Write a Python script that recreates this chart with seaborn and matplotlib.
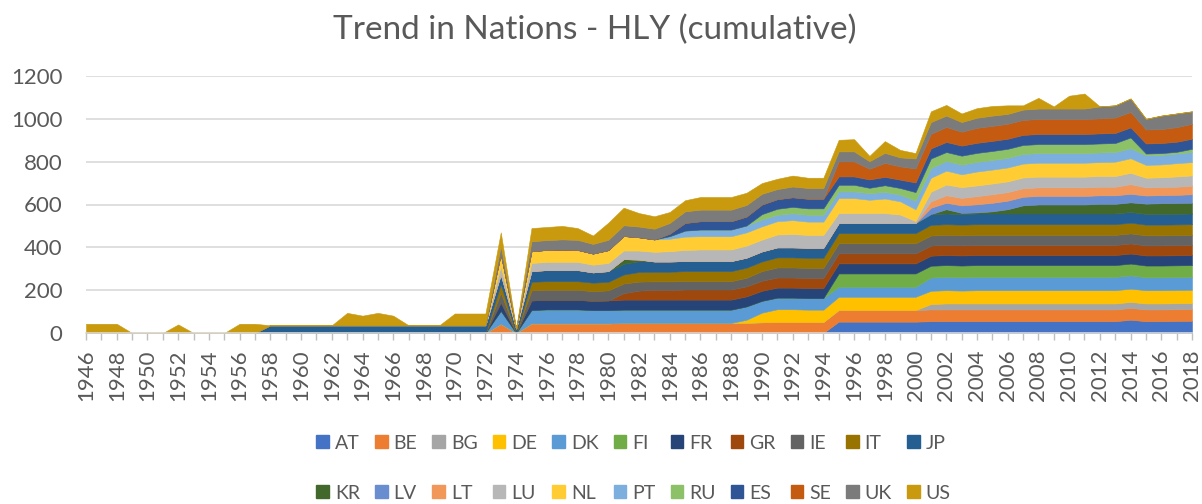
import matplotlib

matplotlib.use("Agg")
import matplotlib.pyplot as plt
import seaborn as sns
from matplotlib.patches import Patch


YEARS = list(range(1946, 2019))

COUNTRIES = ["AT", "BE", "BG", "DE", "DK", "FI", "FR", "GR", "IE", "IT", "JP",
             "KR", "LV", "LT", "LU", "NL", "PT", "RU", "ES", "SE", "UK", "US"]

# values per year 1946-2018 (rows: 1946-1972, 1973-1994, 1995-2018)
AT = [0, 0, 0, 0, 0, 0, 0, 0, 0, 0, 0, 0, 0, 0, 0, 0, 0, 0, 0, 0, 0, 0, 0, 0, 0, 0, 0,
      0, 0, 0, 0, 0, 0, 0, 0, 0, 0, 0, 0, 0, 0, 0, 0, 0, 0, 0, 0, 0, 0,
      53, 53, 53, 53, 53, 53, 55, 55, 55, 55, 55, 55, 55, 55, 55, 55, 55, 55, 55, 62, 55, 55, 56, 57]
BE = [0, 0, 0, 0, 0, 0, 0, 0, 0, 0, 0, 0, 0, 0, 0, 0, 0, 0, 0, 0, 0, 0, 0, 0, 0, 0, 0,
      43, 0, 45, 45, 45, 45, 45, 45, 47, 47, 47, 47, 47, 47, 47, 47, 47, 50, 51, 51, 51, 51,
      54, 54, 54, 54, 54, 54, 55, 55, 55, 55, 55, 55, 55, 55, 55, 55, 55, 55, 55, 55, 55, 55, 55, 55]
BG = [0, 0, 0, 0, 0, 0, 0, 0, 0, 0, 0, 0, 0, 0, 0, 0, 0, 0, 0, 0, 0, 0, 0, 0, 0, 0, 0,
      0, 0, 0, 0, 0, 0, 0, 0, 0, 0, 0, 0, 0, 0, 0, 0, 0, 0, 0, 0, 0, 0,
      0, 0, 0, 0, 0, 0, 25, 28, 28, 28, 28, 28, 28, 28, 28, 28, 28, 28, 28, 28, 28, 28, 28, 28]
DE = [0, 0, 0, 0, 0, 0, 0, 0, 0, 0, 0, 0, 0, 0, 0, 0, 0, 0, 0, 0, 0, 0, 0, 0, 0, 0, 0,
      0, 0, 0, 0, 0, 0, 0, 0, 0, 0, 0, 0, 0, 0, 0, 0, 15, 45, 60, 60, 58, 58,
      62, 62, 62, 62, 62, 62, 62, 62, 60, 62, 62, 62, 62, 62, 62, 62, 62, 62, 62, 62, 62, 62, 62, 62]
DK = [0, 0, 0, 0, 0, 0, 0, 0, 0, 0, 0, 0, 0, 0, 0, 0, 0, 0, 0, 0, 0, 0, 0, 0, 0, 0, 0,
      60, 0, 62, 65, 65, 65, 62, 62, 62, 62, 62, 62, 62, 62, 62, 62, 62, 55, 54, 54, 54, 54,
      47, 47, 47, 47, 47, 47, 62, 62, 62, 62, 62, 62, 62, 62, 62, 62, 62, 62, 62, 62, 60, 60, 60, 60]
FI = [0, 0, 0, 0, 0, 0, 0, 0, 0, 0, 0, 0, 0, 0, 0, 0, 0, 0, 0, 0, 0, 0, 0, 0, 0, 0, 0,
      0, 0, 0, 0, 0, 0, 0, 0, 0, 0, 0, 0, 0, 0, 0, 0, 0, 0, 0, 0, 0, 0,
      62, 62, 62, 62, 62, 62, 55, 55, 55, 55, 55, 55, 55, 55, 55, 55, 55, 55, 55, 55, 55, 55, 55, 55]
FR = [0, 0, 0, 0, 0, 0, 0, 0, 0, 0, 0, 0, 0, 0, 0, 0, 0, 0, 0, 0, 0, 0, 0, 0, 0, 0, 0,
      40, 0, 45, 45, 45, 45, 43, 45, 47, 47, 47, 47, 47, 47, 47, 47, 47, 47, 47, 47, 47, 47,
      47, 47, 47, 47, 47, 47, 47, 47, 47, 47, 47, 47, 47, 47, 47, 47, 47, 47, 47, 47, 47, 47, 47, 47]
GR = [0, 0, 0, 0, 0, 0, 0, 0, 0, 0, 0, 0, 0, 0, 0, 0, 0, 0, 0, 0, 0, 0, 0, 0, 0, 0, 0,
      0, 0, 0, 0, 0, 0, 0, 0, 30, 42, 45, 45, 47, 47, 47, 47, 47, 47, 47, 47, 47, 47,
      47, 47, 47, 47, 47, 47, 47, 47, 47, 47, 47, 47, 47, 47, 47, 47, 47, 47, 47, 47, 47, 47, 47, 47]
IE = [0, 0, 0, 0, 0, 0, 0, 0, 0, 0, 0, 0, 0, 0, 0, 0, 0, 0, 0, 0, 0, 0, 0, 0, 0, 0, 0,
      45, 0, 47, 47, 47, 47, 45, 47, 45, 42, 40, 40, 39, 39, 39, 39, 40, 45, 47, 47, 47, 47,
      47, 47, 47, 47, 47, 47, 47, 47, 47, 47, 47, 47, 47, 47, 47, 47, 47, 47, 47, 47, 47, 47, 47, 47]
IT = [0, 0, 0, 0, 0, 0, 0, 0, 0, 0, 0, 0, 0, 0, 0, 0, 0, 0, 0, 0, 0, 0, 0, 0, 0, 0, 0,
      40, 0, 40, 40, 40, 40, 40, 40, 42, 45, 45, 45, 47, 47, 47, 47, 47, 45, 47, 47, 47, 47,
      47, 47, 47, 47, 47, 47, 50, 50, 50, 50, 50, 50, 50, 50, 50, 50, 50, 50, 50, 50, 50, 50, 50, 50]
JP = [0, 0, 0, 0, 0, 0, 0, 0, 0, 0, 0, 0, 36, 36, 36, 36, 36, 36, 36, 36, 36, 36, 36, 36, 36, 36, 36,
      45, 20, 50, 52, 52, 52, 48, 50, 50, 50, 48, 48, 47, 47, 47, 47, 47, 47, 47, 47, 47, 47,
      47, 47, 47, 47, 47, 47, 50, 50, 50, 50, 50, 50, 50, 50, 50, 50, 50, 50, 50, 50, 50, 50, 50, 50]
KR = [0, 0, 0, 0, 0, 0, 0, 0, 0, 0, 0, 0, 0, 0, 0, 0, 0, 0, 0, 0, 0, 0, 0, 0, 0, 0, 0,
      0, 0, 0, 0, 0, 0, 0, 0, 22, 8, 0, 0, 0, 0, 0, 0, 0, 0, 0, 0, 0, 0,
      0, 0, 0, 0, 0, 0, 0, 20, 5, 5, 10, 20, 38, 42, 42, 42, 42, 45, 45, 45, 48, 50, 50, 50]
LV = [0, 0, 0, 0, 0, 0, 0, 0, 0, 0, 0, 0, 0, 0, 0, 0, 0, 0, 0, 0, 0, 0, 0, 0, 0, 0, 0,
      0, 0, 0, 0, 0, 0, 0, 0, 0, 0, 0, 0, 0, 0, 0, 0, 0, 0, 0, 0, 0, 0,
      0, 0, 0, 0, 0, 0, 30, 30, 35, 38, 40, 40, 40, 40, 40, 40, 40, 40, 40, 40, 38, 38, 38, 40]
LT = [0, 0, 0, 0, 0, 0, 0, 0, 0, 0, 0, 0, 0, 0, 0, 0, 0, 0, 0, 0, 0, 0, 0, 0, 0, 0, 0,
      0, 0, 0, 0, 0, 0, 0, 0, 0, 0, 0, 0, 0, 0, 0, 0, 0, 0, 0, 0, 0, 0,
      0, 0, 0, 0, 0, 0, 30, 35, 35, 38, 40, 40, 40, 40, 40, 40, 40, 40, 40, 45, 38, 38, 38, 40]
LU = [0, 0, 0, 0, 0, 0, 0, 0, 0, 0, 0, 0, 0, 0, 0, 0, 0, 0, 0, 0, 0, 0, 0, 0, 0, 0, 0,
      40, 0, 38, 38, 38, 38, 36, 38, 40, 42, 45, 48, 52, 54, 54, 54, 56, 55, 60, 62, 60, 60,
      47, 47, 47, 47, 40, 10, 45, 50, 50, 50, 50, 50, 50, 50, 50, 50, 50, 50, 50, 53, 45, 45, 48, 48]
NL = [0, 0, 0, 0, 0, 0, 0, 0, 0, 0, 0, 0, 0, 0, 0, 0, 0, 0, 0, 0, 0, 0, 0, 0, 0, 0, 0,
      55, 0, 55, 56, 58, 56, 52, 60, 68, 62, 58, 58, 62, 62, 62, 62, 62, 62, 62, 65, 62, 62,
      70, 70, 62, 68, 62, 55, 65, 65, 60, 65, 65, 65, 65, 65, 65, 65, 65, 65, 67, 68, 60, 60, 62, 62]
PT = [0, 0, 0, 0, 0, 0, 0, 0, 0, 0, 0, 0, 0, 0, 0, 0, 0, 0, 0, 0, 0, 0, 0, 0, 0, 0, 0,
      0, 0, 0, 0, 0, 0, 0, 0, 0, 0, 0, 12, 28, 31, 31, 31, 32, 32, 30, 32, 32, 32,
      31, 31, 31, 31, 31, 40, 45, 45, 45, 45, 45, 45, 45, 45, 45, 45, 45, 45, 45, 47, 45, 45, 45, 47]
RU = [0, 0, 0, 0, 0, 0, 0, 0, 0, 0, 0, 0, 0, 0, 0, 0, 0, 0, 0, 0, 0, 0, 0, 0, 0, 0, 0,
      0, 0, 0, 0, 0, 0, 0, 0, 0, 0, 0, 0, 0, 0, 0, 0, 0, 25, 28, 30, 30, 30,
      31, 31, 25, 31, 31, 40, 45, 42, 42, 42, 42, 42, 42, 42, 42, 42, 42, 42, 42, 50, 8, 8, 8, 15]
ES = [0, 0, 0, 0, 0, 0, 0, 0, 0, 0, 0, 0, 0, 0, 0, 0, 0, 0, 0, 0, 0, 0, 0, 0, 0, 0, 0,
      0, 0, 0, 0, 0, 0, 0, 0, 0, 0, 0, 12, 36, 39, 39, 39, 42, 45, 45, 45, 45, 45,
      39, 39, 39, 39, 39, 45, 47, 47, 47, 47, 47, 47, 47, 47, 47, 47, 47, 47, 47, 47, 47, 47, 47, 47]
SE = [0, 0, 0, 0, 0, 0, 0, 0, 0, 0, 0, 0, 0, 0, 0, 0, 0, 0, 0, 0, 0, 0, 0, 0, 0, 0, 0,
      0, 0, 0, 0, 0, 0, 0, 0, 0, 0, 0, 0, 0, 0, 0, 0, 0, 0, 0, 0, 0, 0,
      70, 70, 50, 65, 62, 65, 68, 70, 65, 70, 70, 70, 70, 70, 70, 70, 70, 70, 72, 72, 65, 65, 68, 70]
UK = [0, 0, 0, 0, 0, 0, 0, 0, 0, 0, 0, 0, 0, 0, 0, 0, 0, 0, 0, 0, 0, 0, 0, 0, 0, 0, 0,
      40, 0, 46, 46, 47, 47, 45, 48, 50, 50, 50, 50, 54, 54, 54, 54, 54, 50, 47, 50, 50, 50,
      47, 47, 35, 47, 42, 47, 55, 53, 45, 47, 48, 46, 48, 49, 49, 49, 49, 56, 57, 63, 50, 63, 64, 58]
US = [43, 43, 43, 0, 0, 0, 40, 0, 0, 0, 43, 43, 0, 0, 0, 0, 0, 58, 45, 58, 45, 0, 0, 0, 55, 55, 55,
      62, 0, 62, 61, 63, 55, 39, 80, 82, 63, 58, 51, 52, 59, 59, 59, 57, 50, 48, 51, 48, 48,
      54, 57, 25, 55, 35, 25, 50, 50, 40, 45, 45, 40, 20, 50, 10, 60, 70, 0, 0, 0, 0, 0, 0, 0]

COLORS = ["#4472C4", "#ED7D31", "#A5A5A5", "#FFC000", "#5B9BD5", "#70AD47",
          "#264478", "#9E480E", "#636363", "#997300", "#255E91", "#43682B",
          "#698ED0", "#F1975A", "#B7B7B7", "#FFCD33", "#7CAFDD", "#8CC168",
          "#2F5597", "#C55A11", "#7B7B7B", "#C99A0E"]

TEXT = "#595959"
W, H = 1202, 504


def main():
    series = [AT, BE, BG, DE, DK, FI, FR, GR, IE, IT, JP,
              KR, LV, LT, LU, NL, PT, RU, ES, SE, UK, US]
    assert all(len(s) == len(YEARS) for s in series)

    sns.set_theme(style="white")
    plt.rcParams["font.family"] = ["Lato", "DejaVu Sans"]

    fig = plt.figure(figsize=(W / 100, H / 100), dpi=100)
    ax = fig.add_axes([86 / W, (H - 333) / H, (1192 - 86) / W, (333 - 76) / H])

    polys = ax.stackplot(YEARS, *series, colors=COLORS, linewidth=0)
    for p, c in zip(polys, COLORS):
        p.set_edgecolor(c)
        p.set_linewidth(0.4)

    ax.set_xlim(1946, 2018)
    ax.set_ylim(0, 1200)
    ax.set_yticks(range(0, 1201, 200))
    ax.yaxis.grid(True, color="#D9D9D9", linewidth=1.2)
    ax.xaxis.grid(False)
    ax.set_axisbelow(True)

    ax.set_xticks(YEARS)
    ax.set_xticklabels([str(y) if y % 2 == 0 else "" for y in YEARS], rotation=90)
    ax.tick_params(axis="x", length=5, width=1, color="#BFBFBF", pad=7,
                   labelsize=16, labelcolor=TEXT, bottom=True)
    ax.tick_params(axis="y", length=0, pad=17, labelsize=16, labelcolor=TEXT)

    sns.despine(ax=ax, left=True)
    ax.spines["bottom"].set_color("#D9D9D9")
    ax.spines["bottom"].set_linewidth(1.2)

    fig.text(595 / W, (H - 39) / H, "Trend in Nations - HLY (cumulative)", ha="center",
             va="baseline", fontsize=24, color=TEXT)

    # legend filled column by column, so interleave the two rows
    handles = [Patch(facecolor=c, edgecolor=c, label=n) for n, c in zip(COUNTRIES, COLORS)]
    order = []
    for i in range(11):
        order += [i, i + 11]
    fig.legend([handles[i] for i in order], [COUNTRIES[i] for i in order],
               loc="center", bbox_to_anchor=(0.527, 0.071), ncol=11, frameon=False,
               fontsize=14, labelcolor=TEXT, handlelength=0.65, handleheight=0.65,
               handletextpad=0.3, columnspacing=0.78, labelspacing=1.7)

    fig.savefig("out.png", dpi=100)
    plt.close(fig)


if __name__ == "__main__":
    main()
